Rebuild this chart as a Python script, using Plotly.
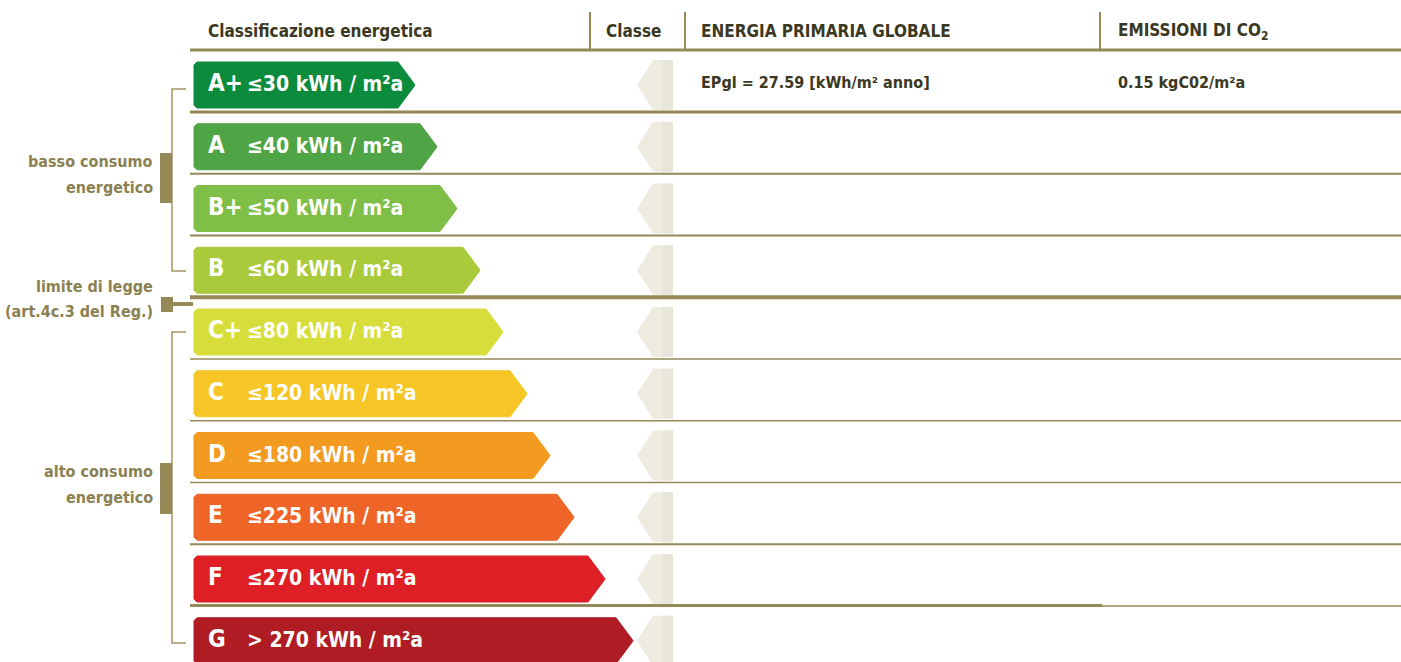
import plotly.graph_objects as go

# ---------------- data ----------------
classes = ["A+", "A", "B+", "B", "C+", "C", "D", "E", "F", "G"]
limits = ["≤30 kWh / m²a", "≤40 kWh / m²a", "≤50 kWh / m²a", "≤60 kWh / m²a",
          "≤80 kWh / m²a", "≤120 kWh / m²a", "≤180 kWh / m²a", "≤225 kWh / m²a",
          "≤270 kWh / m²a", "> 270 kWh / m²a"]
arrow_tip = [415, 437, 457, 480, 503, 527, 550, 574, 605, 633]   # end of each class arrow
class_colors = ["#0d8b3d", "#4fa546", "#7fbf48", "#a8ca3b", "#d7de3b",
                "#f5c625", "#f39a20", "#ee6527", "#df1f26", "#af1c23"]
headers = ["Classificazione energetica", "Classe", "ENERGIA PRIMARIA GLOBALE", "EMISSIONI DI CO<sub>2</sub>"]
epgl_value = 27.59
co2_value = 0.15
current_class = "A+"

# ---------------- layout constants ----------------
W, H = 1401, 662
ROW0, ROWH = 85, 61.75
HALF = 23
LEFT = 194
TIP = 16
OLIVE = "#958a57"
TXT_OLIVE = "#8b8150"
DARK = "#3b3822"
FONT = "Liberation Sans Narrow, DejaVu Sans Condensed, Arial Narrow, sans-serif"

def yc(i):
    return ROW0 + ROWH * i

fig = go.Figure()

# ghost arrows in "Classe" column
for i, c in enumerate(classes):
    y = yc(i)
    xs = [673, 653, 637, 653, 673, 673]
    ys = [y - 25, y - 25, y, y + 25, y + 25, y - 25]
    fig.add_trace(go.Scatter(x=xs, y=ys, mode="lines", fill="toself",
                             fillcolor="#eeece1", line=dict(width=0, color="#eeece1"),
                             hoverinfo="skip", showlegend=False))
    xs2 = [673, 662, 662, 673, 673]
    ys2 = [y - 25, y - 25, y + 25, y + 25, y - 25]
    fig.add_trace(go.Scatter(x=xs2, y=ys2, mode="lines", fill="toself",
                             fillcolor="#e8e6d8", line=dict(width=0, color="#e8e6d8"),
                             hoverinfo="skip", showlegend=False))

# class arrows
r = 3
for i, (c, tip, col) in enumerate(zip(classes, arrow_tip, class_colors)):
    y = yc(i)
    t, b = y - HALF, y + HALF
    xs = [LEFT + r, tip - TIP - 1, tip - 1, tip, tip - 1, tip - TIP - 1, LEFT + r, LEFT, LEFT, LEFT + r]
    ys = [t, t, y - 1.5, y, y + 1.5, b, b, b - r, t + r, t]
    fig.add_trace(go.Scatter(x=xs, y=ys, mode="lines", fill="toself",
                             fillcolor=col, line=dict(width=1, color=col),
                             hoverinfo="skip", showlegend=False, name=c))

shapes = []
# header separators
for x in [590, 685, 1100]:
    shapes.append(dict(type="line", x0=x, x1=x, y0=12, y1=49, line=dict(color=OLIVE, width=2)))
# header line
shapes.append(dict(type="line", x0=190, x1=W, y0=50, y1=50, line=dict(color=OLIVE, width=3)))
# row lines
row_line_w = [3, 2, 2, 4, 1.5, 1.5, 1.5, 2, 1.5]
for i, w in enumerate(row_line_w):
    y = yc(i) + 27
    shapes.append(dict(type="line", x0=190, x1=W, y0=y, y1=y, line=dict(color=OLIVE, width=w)))
# thicker part of the last line
yF = yc(8) + 27
shapes.append(dict(type="line", x0=190, x1=1102, y0=yF - 0.5, y1=yF - 0.5, line=dict(color=OLIVE, width=3)))

# brackets
def bracket(y0, y1):
    shapes.append(dict(type="path", path=f"M 186 {y0} L 172 {y0} L 172 {y1} L 186 {y1}",
                       line=dict(color="#a39566", width=1.5)))
bracket(89, 271)
bracket(332, 643)
# thick bars
shapes.append(dict(type="rect", x0=160, x1=172, y0=153, y1=203, fillcolor=OLIVE, line=dict(width=0)))
shapes.append(dict(type="rect", x0=160, x1=172, y0=463, y1=514, fillcolor=OLIVE, line=dict(width=0)))
shapes.append(dict(type="rect", x0=161, x1=173, y0=297, y1=312, fillcolor=OLIVE, line=dict(width=0)))
shapes.append(dict(type="line", x0=173, x1=193, y0=304, y1=304, line=dict(color=OLIVE, width=4)))

ann = []
def txt(x, y, s, size, color, xanchor="left"):
    ann.append(dict(x=x, y=y, xref="x", yref="y", text=s, showarrow=False,
                    xanchor=xanchor, yanchor="middle",
                    font=dict(family=FONT, size=size, color=color, weight="bold")))

# headers
for x, h in zip([206, 604, 699, 1116], headers):
    txt(x, 31, h, 17, DARK)

# arrow labels
for i, (c, l) in enumerate(zip(classes, limits)):
    y = yc(i)
    txt(206, y - 2, c, 24, "white")
    txt(245, y - 1, l, 21, "white")

# values for current class
ci = classes.index(current_class)
txt(699, yc(ci) - 3, f"EPgl = {epgl_value:.2f} [kWh/m² anno]", 16, DARK)
txt(1116, yc(ci) - 3, f"{co2_value:.2f} kgC02/m²a", 16, DARK)

# left annotations
txt(155, 161, "basso consumo", 16, TXT_OLIVE, "right")
txt(155, 187, "energetico", 16, TXT_OLIVE, "right")
txt(155, 286, "limite di legge", 16, TXT_OLIVE, "right")
txt(155, 311, "(art.4c.3 del Reg.)", 16, TXT_OLIVE, "right")
txt(155, 471, "alto consumo", 16, TXT_OLIVE, "right")
txt(155, 497, "energetico", 16, TXT_OLIVE, "right")

fig.update_layout(
    width=W, height=H, margin=dict(l=0, r=0, t=0, b=0),
    paper_bgcolor="white", plot_bgcolor="white",
    xaxis=dict(range=[0, W], visible=False, fixedrange=True),
    yaxis=dict(range=[H, 0], visible=False, fixedrange=True),
    shapes=shapes, annotations=ann, showlegend=False,
)

fig.write_html("out.html", config={"displayModeBar": False},
               post_script="document.body.style.margin='0';document.body.style.overflow='hidden';")
